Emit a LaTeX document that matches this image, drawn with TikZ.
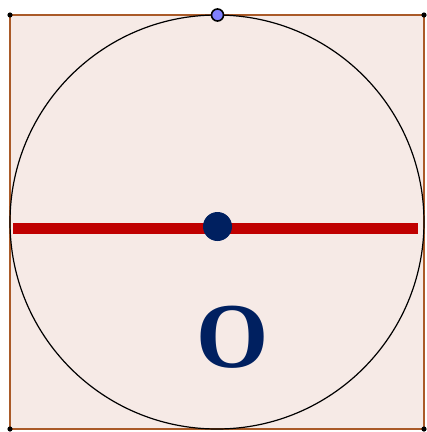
\documentclass[tikz,border=0pt]{standalone}
\usepackage{fontspec}
\newfontfamily\serifbold{Liberation Serif}
\begin{document}
\begin{tikzpicture}[x=0.5mm, y=-0.5mm]
    \definecolor{myfill}{RGB}{246,234,230}
    \definecolor{myedge}{RGB}{170,90,40}
    \definecolor{mydiam}{RGB}{192,0,0}
    \definecolor{mynavy}{RGB}{0,32,96}
    \definecolor{mytop}{RGB}{128,128,255}
    \tikzset{
        corner/.style={circle, fill=black, inner sep=0pt, minimum size=2.6mm},
        centre/.style={circle, fill=mynavy, inner sep=0pt, minimum size=14.5mm},
        topdot/.style={circle, draw=black, line width=0.8mm, fill=mytop, inner sep=0pt, minimum size=6mm}
    }
    \useasboundingbox (0,0) rectangle (427,432);

    % square with its corners
    \fill[myfill] (10,15) rectangle (424,429);
    \draw[myedge, line width=0.75mm] (10,15) rectangle (424,429);
    \node[corner] (tl) at (10,15) {};
    \node[corner] (tr) at (424,15) {};
    \node[corner] (bl) at (10,429) {};
    \node[corner] (br) at (424,429) {};

    % inscribed circle
    \draw[black, line width=0.6mm] (217,222) circle [radius=207];

    % diameter
    \coordinate (dl) at (13,228.5);
    \coordinate (dr) at (418,228.5);
    \draw[mydiam, line width=5.5mm] (dl) -- (dr);

    \node[centre] (o) at (217.5,226.5) {};
    \node[topdot] (t) at (217.5,15) {};
    \node[mynavy, inner sep=0pt] (lab) at (233,337)
        {\fontsize{132}{132}\serifbold\bfseries O};
\end{tikzpicture}
\end{document}
